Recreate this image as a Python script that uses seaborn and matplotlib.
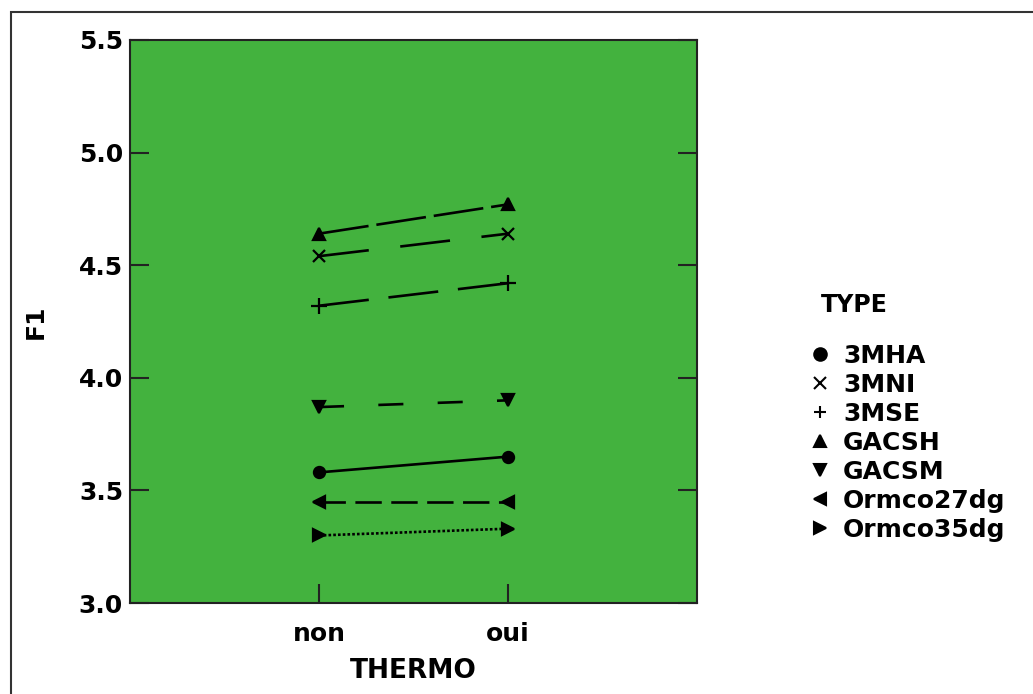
import pandas as pd
import numpy as np
import matplotlib.pyplot as plt
import seaborn as sns
from matplotlib.lines import Line2D
from matplotlib.patches import Rectangle

# config.
sns.set_theme(style='white')
plt.rcParams['font.family'] = ['DejaVu Sans']
plt.rcParams['font.weight'] = 'bold'
plt.rcParams['text.color'] = 'black'
plt.rcParams['axes.labelcolor'] = 'black'
plt.rcParams['xtick.color'] = 'black'
plt.rcParams['ytick.color'] = 'black'

THERMO = ['non', 'oui']
TYPES = ['3MHA', '3MNI', '3MSE', 'GACSH', 'GACSM', 'Ormco27dg', 'Ormco35dg']
f1_3mha = [3.58, 3.65]
f1_3mni = [4.54, 4.64]
f1_3mse = [4.32, 4.42]
f1_gacsh = [4.64, 4.77]
f1_gacsm = [3.87, 3.90]
f1_ormco27 = [3.45, 3.45]
f1_ormco35 = [3.30, 3.33]

values = [f1_3mha, f1_3mni, f1_3mse, f1_gacsh, f1_gacsm, f1_ormco27, f1_ormco35]
rows = []
for t, vals in zip(TYPES, values):
    for th, v in zip(THERMO, vals):
        rows.append({'THERMO': th, 'F1': v, 'TYPE': t})
df = pd.DataFrame(rows)

markers = {'3MHA': 'o', '3MNI': 'x', '3MSE': '+', 'GACSH': '^',
           'GACSM': 'v', 'Ormco27dg': '<', 'Ormco35dg': '>'}
msizes = {'3MHA': 8, '3MNI': 9, '3MSE': 11, 'GACSH': 8,
          'GACSM': 8, 'Ormco27dg': 8, 'Ormco35dg': 8}
dashes = {'3MHA': '-', '3MNI': (0, (19, 12)), '3MSE': (0, (19, 7.5)), 'GACSH': (0, (19, 3)),
          'GACSM': (0, (9.5, 13)), 'Ormco27dg': (0, (10, 3.6)), 'Ormco35dg': (0, (1, 0.8))}

fig = plt.figure(figsize=(10.33, 6.94), dpi=100)
ax = fig.add_axes([0.1258, 0.1311, 0.549, 0.8113])
ax.set_facecolor('#43B23E')

for t in TYPES:
    sub = df[df['TYPE'] == t]
    sns.lineplot(data=sub, x='THERMO', y='F1', marker=markers[t], linestyle=dashes[t],
                 color='black', lw=1.9, markersize=msizes[t], markeredgecolor='black',
                 markeredgewidth=1.6, ax=ax)

ax.set_xlim(-1, 2)
ax.set_ylim(3.0, 5.5)
ax.set_yticks([3.0, 3.5, 4.0, 4.5, 5.0, 5.5])
ax.set_yticklabels(['3.0', '3.5', '4.0', '4.5', '5.0', '5.5'], fontsize=18, fontweight='bold')
ax.set_xticks([0, 1])
ax.set_xticklabels(THERMO, fontsize=18, fontweight='bold')
ax.tick_params(axis='both', direction='in', length=14, width=1.5, color='#222222',
               labelcolor='black', left=True, right=True, bottom=True, top=False)
ax.tick_params(axis='y', pad=5)
ax.tick_params(axis='x', pad=14)
ax.set_xlabel('THERMO', fontsize=19, fontweight='bold', labelpad=8)
ax.set_ylabel('F1', fontsize=18, fontweight='bold', labelpad=22)
for s in ax.spines.values():
    s.set_linewidth(1.5)
    s.set_color('#222222')

# legend
fig.text(821 / 1033, 1 - 305 / 694, 'TYPE', fontsize=17, fontweight='bold', va='center')
handles = [Line2D([], [], ls='none', marker=markers[t], color='black', markersize=9,
                  markeredgewidth=1.5) for t in TYPES]
fig.legend(handles, TYPES, loc='upper left', bbox_to_anchor=(807 / 1033, 1 - 344 / 694),
           frameon=False, fontsize=18, handlelength=1.0, handletextpad=0.44,
           labelspacing=0.2, borderpad=0, borderaxespad=0)

# outer frame
fig.patches.append(Rectangle((11 / 1033, -0.05), 1.1, 1 - 12 / 694 + 0.05, transform=fig.transFigure,
                             fill=False, lw=1.5, ec='#333333'))

fig.savefig('out.png', dpi=100)
